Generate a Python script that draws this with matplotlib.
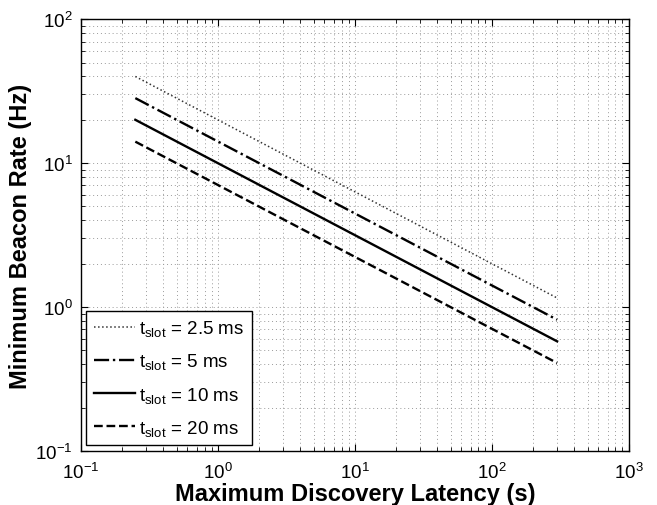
import matplotlib
matplotlib.use("Agg")
import matplotlib.pyplot as plt

plt.rcParams['font.family'] = ['Liberation Sans', 'DejaVu Sans']
plt.rcParams['mathtext.fontset'] = 'custom'
plt.rcParams['mathtext.rm'] = 'Liberation Sans'

# latency range (s), endpoints of each straight log-log line
latency = [0.25, 300]
rate_2_5ms = [40.0, 1.155]
rate_5ms = [28.3, 0.816]
rate_10ms = [20.0, 0.577]
rate_20ms = [14.1, 0.408]
labels = ['2.5', '5', '10', '20']

fig = plt.figure(figsize=(6.57, 5.06), dpi=100)
ax = fig.add_axes([0.123, 0.107, 0.834, 0.853])

ax.loglog(latency, rate_2_5ms, color='#333333', linestyle=':', linewidth=1.1,
          label=r'$\mathregular{t_{slot}}$ = %s ms' % labels[0])
ax.loglog(latency, rate_5ms, color='black', linestyle='-.', linewidth=1.7,
          label=r'$\mathregular{t_{slot}}$ = %s ms' % labels[1])
ax.loglog(latency, rate_10ms, color='black', linestyle='-', linewidth=1.7,
          label=r'$\mathregular{t_{slot}}$ = %s ms' % labels[2])
ax.loglog(latency, rate_20ms, color='black', linestyle='--', linewidth=1.7,
          label=r'$\mathregular{t_{slot}}$ = %s ms' % labels[3])

ax.set_xlim(0.1, 1000)
ax.set_ylim(0.1, 100)
ax.grid(True, which='both', linestyle=(0, (1, 3)), color='#9a9a9a', linewidth=0.7)
ax.tick_params(which='both', direction='in', top=True, right=True, labelsize=13.5)
ax.tick_params(axis='x', pad=8)
ax.tick_params(axis='y', pad=6)
ax.tick_params(which='major', length=5)
ax.tick_params(which='minor', length=3)
for s in ax.spines.values():
    s.set_linewidth(1.0)

ax.set_xlabel('Maximum Discovery Latency (s)', fontsize=17, fontweight='bold', labelpad=0)
ax.set_ylabel('Minimum Beacon Rate (Hz)', fontsize=17, fontweight='bold', labelpad=2)

leg = ax.legend(loc='lower left', fontsize=13.5, fancybox=False, framealpha=1,
                edgecolor='black', handlelength=2.2, handletextpad=0.2,
                borderaxespad=0.3, labelspacing=0.7, borderpad=0.4)
leg.get_frame().set_linewidth(1.0)

fig.savefig('out.png', dpi=100)
